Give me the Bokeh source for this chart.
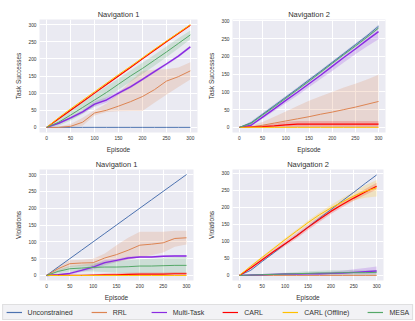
from bokeh.plotting import figure
from bokeh.layouts import column, row
from bokeh.models import Range1d, Legend, LegendItem, ColumnDataSource, FixedTicker
from bokeh.embed import file_html
from bokeh.resources import INLINE

episodes = [0, 25, 50, 75, 100, 125, 150, 175, 200, 225, 250, 275, 300]
ticks = [0, 50, 100, 150, 200, 250, 300]
names = ["Unconstrained", "RRL", "Multi-Task", "CARL", "CARL (Offline)", "MESA"]
colors = ["#4C72B0", "#DD8452", "#8A2BE2", "#FF0000", "#FFC000", "#55A868"]

# ---- Navigation 1: task successes ----
ts1_unc = [0] * 13
ts1_unc_lo = [0] * 13
ts1_unc_hi = [0] * 13
ts1_rrl = [0, 0, 3, 15, 42, 50, 62, 75, 90, 110, 135, 148, 165]
ts1_rrl_lo = [0, 0, 0, 5, 35, 45, 47, 48, 48, 72, 95, 118, 140]
ts1_rrl_hi = [0, 2, 10, 28, 50, 70, 100, 135, 165, 168, 170, 175, 190]
ts1_mt = [0, 12, 28, 45, 68, 80, 100, 118, 140, 163, 185, 208, 235]
ts1_mt_lo = [0, 9, 24, 40, 60, 72, 95, 114, 136, 159, 181, 204, 231]
ts1_mt_hi = [0, 15, 32, 50, 76, 88, 106, 122, 144, 167, 189, 212, 239]
ts1_carl = [0, 25, 50, 75, 100, 125, 150, 175, 200, 225, 250, 274, 298]
ts1_carl_lo = [0, 23, 48, 73, 98, 123, 148, 173, 198, 223, 248, 272, 296]
ts1_carl_hi = [0, 27, 52, 77, 102, 127, 152, 177, 202, 227, 252, 276, 300]
ts1_off = [0, 28, 54, 79, 104, 129, 154, 178, 203, 228, 252, 276, 300]
ts1_off_lo = [0, 27, 53, 78, 103, 128, 153, 177, 202, 227, 251, 275, 299]
ts1_off_hi = [0, 29, 55, 80, 105, 130, 155, 179, 204, 229, 253, 277, 301]
ts1_mesa = [0, 15, 36, 58, 80, 102, 126, 150, 172, 196, 220, 245, 270]
ts1_mesa_lo = [0, 5, 20, 40, 62, 85, 110, 133, 156, 180, 205, 230, 257]
ts1_mesa_hi = [0, 25, 50, 75, 98, 120, 143, 166, 189, 212, 236, 260, 283]

# ---- Navigation 2: task successes ----
ts2_unc = [0, 13, 37, 61, 85, 109, 134, 158, 183, 208, 233, 258, 285]
ts2_unc_lo = [0, 9, 33, 57, 81, 105, 130, 154, 179, 204, 229, 254, 280]
ts2_unc_hi = [0, 17, 41, 65, 89, 113, 138, 162, 187, 212, 237, 262, 290]
ts2_rrl = [0, 1, 6, 12, 18, 24, 30, 37, 43, 50, 57, 65, 73]
ts2_rrl_lo = [0] * 13
ts2_rrl_hi = [0, 5, 15, 30, 45, 60, 75, 88, 100, 112, 123, 135, 148]
ts2_mt = [0, 6, 29, 52, 76, 99, 123, 147, 172, 197, 221, 246, 270]
ts2_mt_lo = [0, 3, 24, 46, 68, 90, 113, 136, 159, 183, 206, 228, 248]
ts2_mt_hi = [0, 9, 33, 57, 81, 105, 129, 153, 178, 203, 228, 254, 280]
ts2_carl = [0, 1, 2, 4, 7, 9, 9, 9, 9, 9, 9, 9, 9]
ts2_carl_lo = [0] * 13
ts2_carl_hi = [0, 3, 6, 10, 16, 18, 18, 18, 18, 18, 18, 18, 18]
ts2_off = [0] * 13
ts2_off_lo = [0] * 13
ts2_off_hi = [0, 1, 1, 1, 1, 1, 1, 1, 1, 1, 1, 1, 1]
ts2_mesa = [0, 11, 35, 58, 82, 106, 130, 155, 180, 205, 229, 254, 280]
ts2_mesa_lo = [0, 8, 32, 55, 79, 103, 127, 152, 177, 202, 226, 251, 277]
ts2_mesa_hi = [0, 14, 38, 61, 85, 109, 133, 158, 183, 208, 232, 257, 283]

# ---- Navigation 1: violations ----
v1_unc = [0, 25, 50, 75, 100, 125, 150, 175, 200, 225, 250, 275, 300]
v1_unc_lo = [0, 25, 50, 75, 100, 125, 150, 175, 200, 225, 250, 275, 300]
v1_unc_hi = [0, 25, 50, 75, 100, 125, 150, 175, 200, 225, 250, 275, 300]
v1_rrl = [0, 20, 35, 37, 38, 52, 62, 75, 90, 93, 97, 110, 112]
v1_rrl_lo = [0, 12, 25, 27, 28, 35, 40, 47, 55, 60, 68, 85, 92]
v1_rrl_hi = [0, 28, 45, 47, 50, 65, 90, 112, 130, 130, 130, 133, 133]
v1_mt = [0, 2, 6, 15, 25, 38, 45, 52, 55, 55, 57, 58, 58]
v1_mt_lo = [0, 0, 2, 10, 18, 30, 40, 48, 52, 52, 54, 55, 55]
v1_mt_hi = [0, 4, 10, 20, 32, 46, 50, 56, 58, 58, 60, 61, 61]
v1_carl = [0, 0, 0, 0, 1, 2, 2, 3, 4, 4, 4, 5, 5]
v1_carl_lo = [0] * 13
v1_carl_hi = [0, 0, 0, 0, 3, 6, 7, 8, 9, 9, 9, 10, 10]
v1_off = [0] * 13
v1_off_lo = [0] * 13
v1_off_hi = [0] * 13
v1_mesa = [0, 12, 20, 22, 24, 25, 25, 26, 28, 28, 29, 30, 30]
v1_mesa_lo = [0, 6, 12, 12, 12, 10, 8, 6, 6, 6, 5, 5, 5]
v1_mesa_hi = [0, 18, 28, 32, 36, 40, 42, 45, 48, 50, 52, 54, 55]

# ---- Navigation 2: violations ----
v2_unc = [0, 15, 41, 66, 92, 117, 142, 168, 193, 219, 244, 270, 295]
v2_unc_lo = [0, 15, 41, 66, 92, 117, 142, 168, 193, 219, 244, 270, 295]
v2_unc_hi = [0, 15, 41, 66, 92, 117, 142, 168, 193, 219, 244, 270, 295]
v2_rrl = [0] * 13
v2_rrl_lo = [0] * 13
v2_rrl_hi = [0, 1, 1, 2, 2, 2, 2, 3, 3, 3, 3, 3, 3]
v2_mt = [0, 1, 2, 3, 4, 4, 5, 5, 6, 7, 9, 11, 13]
v2_mt_lo = [0, 0, 0, 1, 2, 2, 2, 2, 2, 3, 3, 3, 3]
v2_mt_hi = [0, 2, 4, 5, 6, 7, 8, 9, 11, 14, 18, 22, 26]
v2_carl = [0, 22, 46, 70, 93, 116, 141, 165, 188, 208, 227, 245, 262]
v2_carl_lo = [0, 18, 41, 64, 86, 108, 133, 157, 180, 200, 219, 236, 252]
v2_carl_hi = [0, 26, 51, 76, 100, 124, 149, 173, 196, 216, 235, 254, 272]
v2_off = [0, 27, 53, 79, 105, 130, 155, 178, 198, 216, 233, 247, 257]
v2_off_lo = [0, 24, 49, 75, 100, 125, 149, 171, 189, 205, 220, 228, 232]
v2_off_hi = [0, 30, 57, 83, 110, 135, 161, 185, 207, 227, 246, 265, 280]
v2_mesa = [0, 1, 2, 3, 4, 5, 6, 7, 7, 8, 8, 8, 9]
v2_mesa_lo = [0, 0, 0, 1, 1, 2, 2, 2, 2, 2, 2, 2, 2]
v2_mesa_hi = [0, 2, 4, 6, 8, 10, 12, 14, 15, 15, 15, 15, 16]

FONT = "Liberation Sans"
TXT = "#333333"
widths = [1.0, 1.0, 1.4, 1.2, 1.0, 1.0]


def make_panel(title, ylabel, yr, series, w, h, mbl, mbr, mbt, mbb):
    p = figure(width=w, height=h, x_range=Range1d(-15, 315), y_range=Range1d(*yr),
               output_backend="svg", toolbar_location=None,
               min_border_left=mbl, min_border_right=mbr,
               min_border_top=mbt, min_border_bottom=mbb,
               background_fill_color="#EAEAF2", border_fill_color="white",
               outline_line_color=None)
    p.title.text = title
    p.title.align = "center"
    p.title.text_font = FONT
    p.title.text_font_size = "7.5px"
    p.title.text_font_style = "normal"
    p.title.text_color = TXT
    p.title.offset = 0
    p.title.standoff = 2
    for (mean, lo, hi), color, lw in zip(series, colors, widths):
        p.varea(x=episodes, y1=lo, y2=hi, fill_color=color, fill_alpha=0.2)
    for (mean, lo, hi), color, lw in zip(series, colors, widths):
        p.line(episodes, mean, line_color=color, line_width=lw)
    for ax in (p.xaxis[0], p.yaxis[0]):
        ax.ticker = FixedTicker(ticks=ticks)
        ax.axis_line_color = None
        ax.major_tick_line_color = None
        ax.minor_tick_line_color = None
        ax.major_tick_out = 0
        ax.major_tick_in = 0
        ax.major_label_text_font = FONT
        ax.major_label_text_font_size = "4.8px"
        ax.major_label_text_color = TXT
        ax.major_label_standoff = 3
        ax.axis_label_text_font = FONT
        ax.axis_label_text_font_size = "6.5px"
        ax.axis_label_text_font_style = "normal"
        ax.axis_label_text_color = TXT
        ax.axis_label_standoff = 3
    p.xaxis.axis_label = "Episode"
    p.yaxis.axis_label = ylabel
    p.grid.grid_line_color = "white"
    p.grid.grid_line_width = 1
    p.grid.minor_grid_line_color = None
    return p


s_ts1 = [(ts1_unc, ts1_unc_lo, ts1_unc_hi), (ts1_rrl, ts1_rrl_lo, ts1_rrl_hi),
         (ts1_mt, ts1_mt_lo, ts1_mt_hi), (ts1_carl, ts1_carl_lo, ts1_carl_hi),
         (ts1_off, ts1_off_lo, ts1_off_hi), (ts1_mesa, ts1_mesa_lo, ts1_mesa_hi)]
s_ts2 = [(ts2_unc, ts2_unc_lo, ts2_unc_hi), (ts2_rrl, ts2_rrl_lo, ts2_rrl_hi),
         (ts2_mt, ts2_mt_lo, ts2_mt_hi), (ts2_carl, ts2_carl_lo, ts2_carl_hi),
         (ts2_off, ts2_off_lo, ts2_off_hi), (ts2_mesa, ts2_mesa_lo, ts2_mesa_hi)]
s_v1 = [(v1_unc, v1_unc_lo, v1_unc_hi), (v1_rrl, v1_rrl_lo, v1_rrl_hi),
        (v1_mt, v1_mt_lo, v1_mt_hi), (v1_carl, v1_carl_lo, v1_carl_hi),
        (v1_off, v1_off_lo, v1_off_hi), (v1_mesa, v1_mesa_lo, v1_mesa_hi)]
s_v2 = [(v2_unc, v2_unc_lo, v2_unc_hi), (v2_rrl, v2_rrl_lo, v2_rrl_hi),
        (v2_mt, v2_mt_lo, v2_mt_hi), (v2_carl, v2_carl_lo, v2_carl_hi),
        (v2_off, v2_off_lo, v2_off_hi), (v2_mesa, v2_mesa_lo, v2_mesa_hi)]

p1 = make_panel("Navigation 1", "Task Successes", (-15, 315), s_ts1, 205, 155, 39, 8, 19, 19)
p2 = make_panel("Navigation 2", "Task Successes", (-14.5, 304), s_ts2, 210, 155, 21, 30, 19, 18)
p3 = make_panel("Navigation 1", "Violations", (-15, 315), s_v1, 205, 148, 39, 12, 14, 18)
p4 = make_panel("Navigation 2", "Violations", (-15, 311), s_v2, 210, 148, 23, 32, 14, 18)

leg = figure(width=415, height=18, x_range=Range1d(0, 1), y_range=Range1d(0, 1),
             output_backend="svg", toolbar_location=None, min_border=0,
             outline_line_color=None, x_axis_type=None, y_axis_type=None,
             background_fill_color="white", border_fill_color="white")
leg.grid.visible = False
items = []
for name, color in zip(names, colors):
    r = leg.line(x="x", y="y", source=ColumnDataSource(data=dict(x=[-5, -4], y=[-5, -5])),
                 line_color=color, line_width=1.2)
    items.append(LegendItem(label=name, renderers=[r]))
legend = Legend(items=items, orientation="horizontal", location="center",
                spacing=18, padding=3, margin=0, glyph_width=16, glyph_height=8,
                label_height=8, label_standoff=6,
                label_text_font=FONT, label_text_font_size="7px", label_text_color=TXT,
                background_fill_color="#F2F2F5", background_fill_alpha=1.0,
                border_line_color="#CCCCCC", border_line_width=1)
leg.add_layout(legend, "center")

layout = column(row(p1, p2), row(p3, p4), leg)
open("out.html", "w").write(file_html(layout, INLINE))
